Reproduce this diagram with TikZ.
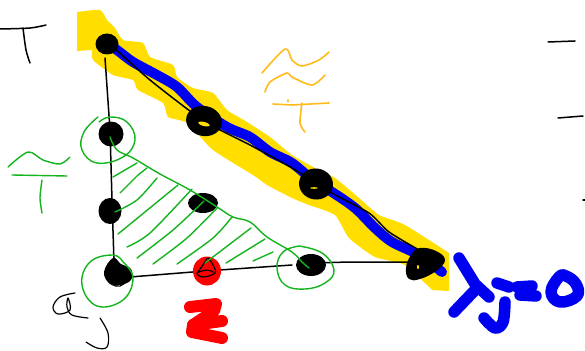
\documentclass[tikz,border=0pt]{standalone}
\definecolor{hlyellow}{HTML}{FFDE00}
\definecolor{inkblue}{HTML}{0000F0}
\definecolor{inkgreen}{HTML}{14B41E}
\definecolor{inkorange}{HTML}{FFBB1C}
\definecolor{inkred}{HTML}{FF0000}
\tikzset{
  pen/.style={line cap=round,line join=round},
  thin ink/.style={pen,black,line width=1.5pt},
  green ink/.style={pen,inkgreen,line width=1.4pt},
  orange ink/.style={pen,inkorange,line width=1.6pt},
  blue ink/.style={pen,inkblue,line width=11.5pt},
  red ink/.style={pen,inkred,line width=12pt},
  blob/.style={black,fill=black},
}
\begin{document}
\begin{tikzpicture}[x=1pt,y=-1pt]
\useasboundingbox (0,0) rectangle (585,350);
\fill[white] (0,0) rectangle (585,350);
% yellow highlight
\fill[hlyellow] (77,12) -- plot[smooth,tension=0.35] coordinates {(77,12)(100,10)(107,20)(115,28)(123,40)(143,43)(150,57)(173,65)(177,77)(193,88)(213,93)(227,110)(247,122)(270,137)(292,155)(315,168)(335,178)(359,198)(379,215)(405,225)(449,253)}
 -- (449,291) -- (432,290)
 -- plot[smooth,tension=0.35] coordinates {(432,290)(405,265)(375,257)(349,238)(335,215)(309,205)(292,198)(267,185)(253,175)(213,150)(187,123)(168,117)(163,103)(138,90)(133,80)(113,75)(93,60)(92,50)}
 -- (77,51) -- cycle;
% blue stroke
\draw[pen,inkblue,line width=10pt] plot[smooth,tension=0.5] coordinates {(110,46)(117,50)(133,62)(157,75)(177,87)(197,107)(227,127)(250,137)(270,152)(292,163)(315,182)(332,192)(355,208)(375,228)(392,242)(419,255)(442,272)};
% black connectors
\draw[thin ink] (105,58) -- (110,130) -- (112,200) -- (114,262);
\draw[thin ink] (130,277) -- (205,271) -- (292,265);
\draw[thin ink] (311,263) -- (350,262) -- (415,262);
\draw[thin ink] plot[smooth,tension=0.4] coordinates {(110,44)(150,80)(204,121)(250,145)(292,168)(330,192)(369,213)(389,232)(419,250)};
% red dot
\fill[inkred] (207,271) ellipse (14 and 14.5);
% dots
\fill[blob] (107,44) ellipse (11.5 and 10.5);
\fill[blob] (111,134) ellipse (12.5 and 12.5);
\fill[blob] (110,211) ellipse (11.5 and 13);
\fill[blob] plot[smooth cycle,tension=0.7] coordinates {(113,258)(121,264)(131,269)(131,280)(120,285)(110,284)(104,272)};
\fill[blob] (203,203) ellipse (15 and 10);
\fill[blob] (311,265) ellipse (15 and 11);
\fill[blob] plot[smooth cycle,tension=0.7] coordinates {(420,248)(436,251)(445,260)(436,271)(420,279)(409,279)(406,268)(411,255)};
\fill[blob] [rotate around={-12:(204,121)}] (204,121) ellipse (18 and 15);
\fill[hlyellow] [rotate around={-15:(204,124)}] (204,124) ellipse (6 and 2);
\fill[blob] [rotate around={-8:(316,184)}] (316,184) ellipse (17 and 15.5);
\fill[hlyellow] (314,188) ellipse (4 and .8);
\fill[hlyellow] (418,267) ellipse (1 and 2);
% red dot scribble
\draw[pen,black,line width=1.2pt] plot[smooth,tension=0.6] coordinates {(198,272)(205,262)(208,258)(213,265)(215,273)(203,277)(197,273)(207,270)(213,272)};
\draw[pen,black,line width=1.2pt] (112,284) .. controls (116,288) and (124,287) .. (126,280);
% green shapes
\draw[green ink] plot[smooth,tension=0.7] coordinates {(98,117)(84,132)(82,150)(97,163)(123,157)(135,140)(127,122)(110,117)(99,122)};
\draw[green ink] plot[smooth,tension=0.6] coordinates {(110,137)(117,150)(133,158)(160,174)(190,190)(217,207)(233,217)(250,222)(267,237)(292,252)(302,262)(309,268)};
\draw[green ink] plot[smooth,tension=0.7] coordinates {(123,262)(113,255)(90,262)(82,285)(97,306)(123,300)(133,278)(123,262)};
\draw[green ink] plot[smooth,tension=0.7] coordinates {(299,246)(322,253)(334,270)(325,283)(305,289)(285,285)(277,268)(283,252)(299,246)};
% hatching
\draw[green ink] (120,193) -- (138,175) -- (147,168);
\draw[green ink] (113,177) -- (137,163);
\draw[green ink] plot[smooth] coordinates {(115,212)(137,200)(157,178)};
\draw[green ink] (118,234) -- (178,185);
\draw[green ink] plot[smooth] coordinates {(127,247)(150,233)(192,189)};
\draw[green ink] plot[smooth] coordinates {(137,258)(173,230)(204,201)};
\draw[green ink] plot[smooth] coordinates {(153,264)(187,238)(217,208)};
\draw[green ink] plot[smooth] coordinates {(177,264)(213,238)(232,217)};
\draw[green ink] (205,263) -- (251,228);
\draw[green ink] (226,263) -- (265,239);
\draw[green ink] (253,261) -- (273,252);
% green tilde T
\draw[green ink] plot[smooth] coordinates {(8,167)(28,152)(43,160)(60,164)(70,157)};
\draw[green ink] (12,175) -- (67,176);
\draw[green ink] plot[smooth] coordinates {(42,180)(40,198)(42,213)};
% orange tilde T
\draw[orange ink] plot[smooth,tension=0.5] coordinates {(262,73)(285,49)(292,60)(302,66)(319,60)(329,52)};
\draw[orange ink] plot[smooth,tension=0.5] coordinates {(265,92)(270,82)(287,73)(292,77)(312,85)(325,75)};
\draw[orange ink] (273,104) -- (292,105) -- (329,103);
\draw[orange ink] plot[smooth] coordinates {(302,103)(300,123)(305,132)};
\draw[orange ink] (288,100) -- (288,101.5);
% black handwriting
\draw[thin ink] plot[smooth,tension=0.5] coordinates {(0,29)(30,28)(46,25)};
\draw[thin ink] plot[smooth] coordinates {(23,28)(26,50)(30,63)};
\draw[thin ink] (548,42) -- (575,41);
\draw[thin ink] (558,118) -- (583,116);
\draw[thin ink] (583,200) -- (585,200);
\draw[thin ink,line width=1.2pt] plot[smooth,tension=0.6] coordinates {(75,293)(60,297)(53,307)(58,314)(70,310)(68,298)(67,307)(72,315)(88,318)};
\draw[thin ink,line width=1.2pt] plot[smooth,tension=0.6] coordinates {(100,318)(108,333)(107,347)(97,348)(86,342)};
% red z
\draw[red ink] (190,307) -- (216,304) -- (214,311) -- (193,325) -- (222,321);
\draw[red ink] (193,325) -- (192,332) -- (222,338);
% blue y_j = 0
\draw[blue ink] (459,258) -- (475,284) -- (489,297);
\draw[blue ink] (477,288) -- (454,312);
\draw[blue ink] plot[smooth,tension=0.6] coordinates {(505,302)(503,322)(495,328)(484,318)};
\draw[blue ink] (497,283) -- (509,287);
\draw[blue ink] (517,287) -- (532,286);
\draw[blue ink] (520,295) -- (536,296);
\draw[blue ink] plot[smooth cycle,tension=0.7] coordinates {(559,277)(551,292)(560,302)(577,296)(576,284)(566,276)};
\end{tikzpicture}
\end{document}
